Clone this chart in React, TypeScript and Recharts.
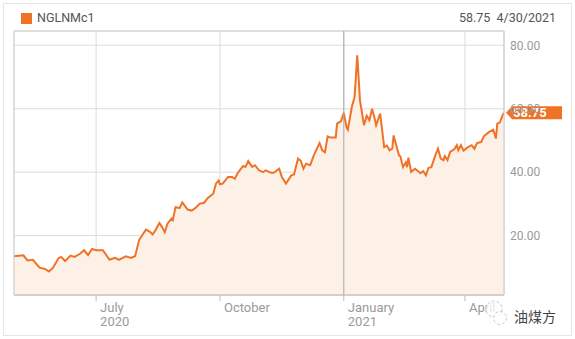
import React from "react";
import {
  Area,
  AreaChart,
  CartesianGrid,
  ReferenceLine,
  XAxis,
  YAxis,
} from "recharts";

// NGLNMc1 daily settle
const dates = [
  "2020-05-01", "2020-05-08", "2020-05-11", "2020-05-15", "2020-05-20", "2020-05-24",
  "2020-05-27", "2020-05-30", "2020-06-03", "2020-06-05", "2020-06-08", "2020-06-12",
  "2020-06-15", "2020-06-19", "2020-06-22", "2020-06-25", "2020-06-28", "2020-07-01",
  "2020-07-06", "2020-07-11", "2020-07-15", "2020-07-18", "2020-07-23", "2020-07-27",
  "2020-07-30", "2020-08-02", "2020-08-07", "2020-08-10", "2020-08-12", "2020-08-14",
  "2020-08-17", "2020-08-19", "2020-08-21", "2020-08-23", "2020-08-26", "2020-08-27",
  "2020-08-29", "2020-09-01", "2020-09-03", "2020-09-07", "2020-09-10", "2020-09-13",
  "2020-09-16", "2020-09-19", "2020-09-22", "2020-09-26", "2020-09-28", "2020-09-30",
  "2020-10-01", "2020-10-03", "2020-10-07", "2020-10-10", "2020-10-12", "2020-10-14",
  "2020-10-18", "2020-10-20", "2020-10-22", "2020-10-25", "2020-10-27", "2020-10-30",
  "2020-11-02", "2020-11-04", "2020-11-08", "2020-11-10", "2020-11-14", "2020-11-16",
  "2020-11-19", "2020-11-23", "2020-11-25", "2020-11-28", "2020-11-30", "2020-12-02",
  "2020-12-04", "2020-12-07", "2020-12-10", "2020-12-14", "2020-12-16", "2020-12-18",
  "2020-12-20", "2020-12-22", "2020-12-26", "2020-12-27", "2020-12-30", "2021-01-01",
  "2021-01-03", "2021-01-04", "2021-01-07", "2021-01-09", "2021-01-11", "2021-01-13",
  "2021-01-16", "2021-01-18", "2021-01-20", "2021-01-22", "2021-01-24", "2021-01-25",
  "2021-01-28", "2021-01-31", "2021-02-02", "2021-02-04", "2021-02-06", "2021-02-07",
  "2021-02-11", "2021-02-12", "2021-02-14", "2021-02-16", "2021-02-17", "2021-02-18",
  "2021-02-20", "2021-02-23", "2021-02-27", "2021-03-01", "2021-03-03", "2021-03-05",
  "2021-03-07", "2021-03-10", "2021-03-12", "2021-03-14", "2021-03-16", "2021-03-17",
  "2021-03-19", "2021-03-21", "2021-03-24", "2021-03-26", "2021-03-27", "2021-03-29",
  "2021-03-31", "2021-04-03", "2021-04-06", "2021-04-08", "2021-04-10", "2021-04-13",
  "2021-04-15", "2021-04-19", "2021-04-22", "2021-04-24", "2021-04-25", "2021-04-27",
  "2021-04-29", "2021-04-30",
];

const prices = [
  13.5, 13.8, 12.2, 12.4, 9.9, 9.5,
  8.7, 9.9, 12.9, 13.3, 12.0, 13.7,
  13.3, 14.3, 15.4, 13.9, 15.8, 15.4,
  15.4, 12.4, 13.0, 12.4, 13.5, 13.0,
  13.6, 18.7, 21.9, 21.2, 20.4, 21.6,
  24.0, 22.7, 21.1, 23.8, 25.4, 24.9,
  29.0, 28.7, 30.5, 28.2, 27.9, 28.8,
  30.1, 30.3, 31.9, 33.2, 36.4, 37.4,
  36.2, 36.4, 38.5, 38.5, 37.9, 39.6,
  41.9, 41.7, 43.5, 41.7, 42.2, 40.6,
  40.0, 40.6, 39.8, 39.8, 41.1, 38.5,
  36.4, 39.0, 39.3, 44.3, 43.6, 41.1,
  42.7, 42.2, 45.6, 49.2, 46.9, 46.3,
  51.3, 50.9, 50.9, 55.3, 56.1, 58.7,
  54.2, 53.4, 60.6, 63.7, 76.8, 62.7,
  54.8, 57.8, 56.4, 60.0, 56.8, 54.8,
  58.5, 47.9, 48.4, 46.9, 47.4, 51.6,
  45.3, 45.0, 41.6, 43.1, 41.6, 44.6,
  40.1, 41.1, 39.7, 40.3, 39.0, 41.4,
  41.6, 45.3, 47.4, 44.3, 43.8, 45.1,
  43.8, 46.4, 47.2, 48.5, 46.9, 48.5,
  46.8, 47.8, 48.5, 47.4, 49.2, 49.5,
  51.3, 52.7, 53.4, 50.6, 55.3, 55.7,
  58.0, 58.75,
];

const tickDates = ["2020-07-01", "2020-10-01", "2021-01-01", "2021-04-01"];
const tickMonths = ["July", "October", "January", "April"];
const tickYears = ["2020", "", "2021", ""];
const yTicks = [20, 40, 60, 80];

const SERIES = "NGLNMc1";
const ORANGE = "#f07226";
const FONT = 'Roboto, "Segoe UI", Arial, sans-serif';

const data = dates.map((d, i) => ({ t: Date.parse(d), v: prices[i] }));
const xTicks = tickDates.map((d) => Date.parse(d));
const X_MIN = Date.parse("2020-05-01");
const X_MAX = Date.parse("2021-04-30");
const Y_MIN = 1.3;
const Y_MAX = 84.5;

const lastPrice = prices[prices.length - 1];
const lastDate = (() => {
  const [y, m, d] = dates[dates.length - 1].split("-").map(Number);
  return `${m}/${d}/${y}`;
})();

function DateTick(props: any) {
  const { x, payload } = props;
  const i = xTicks.indexOf(payload.value);
  return (
    <text x={x + 4} y={311.5} fill="#9a9a9a" fontSize={13} fontFamily={FONT}>
      <tspan x={x + 4}>{tickMonths[i]}</tspan>
      {tickYears[i] && (
        <tspan x={x + 4} y={325.5}>
          {tickYears[i]}
        </tspan>
      )}
    </text>
  );
}

function PriceTag(props: any) {
  const { viewBox } = props;
  const x = viewBox.x + viewBox.width;
  const y = viewBox.y;
  return (
    <g>
      <path
        d={`M${x + 2},${y} L${x + 8},${y - 6.5} L${x + 58},${y - 6.5} L${x + 58},${y + 6.5} L${x + 8},${y + 6.5} Z`}
        fill={ORANGE}
      />
      <text
        x={x + 9}
        y={y}
        dy="0.36em"
        fill="#fff"
        fontSize={13}
        fontWeight="bold"
        fontFamily={FONT}
      >
        {lastPrice.toFixed(2)}
      </text>
    </g>
  );
}

export default function App() {
  return (
    <div
      style={{
        position: "absolute",
        left: 0,
        top: 0,
        width: 575,
        height: 339,
        background: "#fff",
        fontFamily: FONT,
        overflow: "hidden",
      }}
    >
      <div
        style={{
          position: "absolute",
          left: 3,
          top: 3,
          width: 567,
          height: 331,
          border: "1px solid #e6e6e6",
        }}
      />
      <div
        style={{
          position: "absolute",
          left: 21,
          top: 13,
          width: 11,
          height: 11,
          background: ORANGE,
        }}
      />
      <div
        style={{
          position: "absolute",
          left: 37,
          top: 10,
          fontSize: 12.5,
          color: "#555",
          lineHeight: "16px",
        }}
      >
        {SERIES}
      </div>
      <div
        style={{
          position: "absolute",
          right: 575 - 556,
          top: 10,
          fontSize: 12.5,
          color: "#555",
          lineHeight: "16px",
          whiteSpace: "pre",
        }}
      >
        {`${lastPrice.toFixed(2)}  ${lastDate}`}
      </div>

      <div style={{ position: "absolute", left: 0, top: 0 }}>
        <AreaChart
          width={575}
          height={339}
          data={data}
          margin={{ top: 31, right: 10, bottom: 4, left: 14 }}
        >
          <CartesianGrid stroke="#dcdcdc" strokeWidth={1} />
          <XAxis
            dataKey="t"
            type="number"
            domain={[X_MIN, X_MAX]}
            allowDataOverflow
            ticks={xTicks}
            height={40}
            tick={<DateTick />}
            tickSize={6}
            tickLine={{ stroke: "#bdbdbd" }}
            axisLine={{ stroke: "#b8aea8" }}
          />
          <YAxis
            orientation="right"
            type="number"
            domain={[Y_MIN, Y_MAX]}
            allowDataOverflow
            ticks={yTicks}
            width={61}
            tickSize={6}
            tickMargin={0}
            tickLine={false}
            axisLine={{ stroke: "#c8c8c8" }}
            tickFormatter={(v: number) => v.toFixed(2)}
            tick={{ fill: "#9a9a9a", fontSize: 12, fontFamily: FONT }}
          />
          <ReferenceLine y={Y_MAX} stroke="#d0d0d0" ifOverflow="visible" />
          <ReferenceLine x={X_MIN} stroke="#d0d0d0" ifOverflow="visible" />
          <ReferenceLine x={xTicks[2]} stroke="#a6a6a6" />
          <Area
            type="linear"
            dataKey="v"
            stroke={ORANGE}
            strokeWidth={2}
            fill="#fdf1e7"
            fillOpacity={1}
            dot={false}
            activeDot={false}
            isAnimationActive={false}
          />
          <ReferenceLine
            y={lastPrice}
            stroke="none"
            label={<PriceTag />}
          />
        </AreaChart>
      </div>

      <svg
        width={24}
        height={30}
        style={{ position: "absolute", left: 484, top: 298 }}
      >
        <circle cx={10} cy={11} r={8} fill="rgba(255,255,255,0.75)" stroke="#c8c8c8" strokeWidth={1} strokeDasharray="3 2" />
        <circle cx={16} cy={20} r={6.5} fill="rgba(255,255,255,0.75)" stroke="#c8c8c8" strokeWidth={1} strokeDasharray="3 2" />
      </svg>
      <div
        style={{
          position: "absolute",
          left: 514,
          top: 306,
          fontSize: 14,
          color: "#444",
          fontFamily: '"Noto Sans CJK SC", sans-serif',
          lineHeight: "20px",
        }}
      >
        油煤方
      </div>
    </div>
  );
}
